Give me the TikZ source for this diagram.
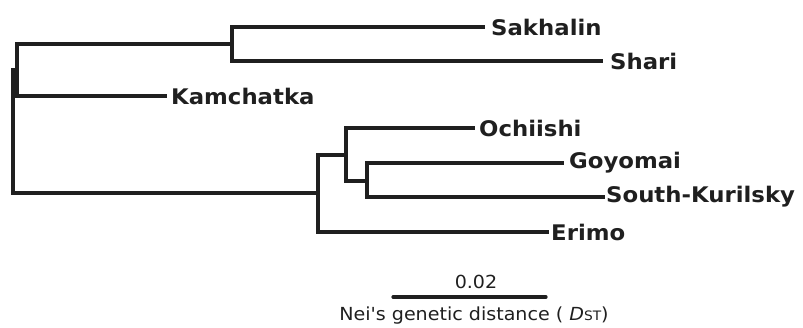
\documentclass[tikz,border=0pt]{standalone}
\usepackage{fontspec}
\setmainfont{DejaVu Sans}
\newfontfamily\widefont[FakeStretch=1.06]{DejaVu Sans}
\begin{document}
\begin{tikzpicture}[x=1pt,y=-1pt,
  br/.style={line width=3.2pt,draw=black!88,line cap=rect},
  leaf/.style={anchor=west,inner sep=0pt,font=\widefont\fontsize{21.5}{24}\selectfont\bfseries,text=black!88},
  captext/.style={inner sep=0pt,font=\widefont\fontsize{18}{21}\selectfont,text=black!88}]
\useasboundingbox (0,0) rectangle (803,327);
% internal nodes
\coordinate (r) at (13,70);
\coordinate (a) at (17,70);
\coordinate (b) at (232,44);
\coordinate (c) at (318,193);
\coordinate (d) at (346,155);
\coordinate (e) at (367,181);
% leaf label nodes
\node[leaf] (sak) at (491,27) {Sakhalin};
\node[leaf] (sha) at (610,61) {Shari};
\node[leaf] (kam) at (171,96) {Kamchatka};
\node[leaf] (och) at (479,128) {Ochiishi};
\node[leaf] (goy) at (569,163) {Goyomai};
\node[leaf] (sku) at (606,197) {South-Kurilsky};
\node[leaf] (eri) at (551,232) {Erimo};
% branches
\draw[br] (r |- a) |- (c);
\draw[br] (a |- b) |- ([xshift=-6pt]kam.west);
\draw[br] (a |- b) -- (b);
\draw[br] (b |- sak) |- (b |- sha);
\draw[br] (b |- sak) -- ([xshift=-8pt]sak.west);
\draw[br] (b |- sha) -- ([xshift=-9pt]sha.west);
\draw[br] (c |- d) |- ([xshift=-4pt]eri.west);
\draw[br] (c |- d) -- (d);
\draw[br] (d |- och) |- (e);
\draw[br] (d |- och) -- ([xshift=-6pt]och.west);
\draw[br] (e |- goy) |- ([xshift=-3pt]sku.west);
\draw[br] (e |- goy) -- ([xshift=-7pt]goy.west);
% scale bar
\coordinate (s1) at (393,297);
\coordinate (s2) at (546,297);
\draw[br,line cap=round] (s1) -- (s2);
\node[captext] (val) at (476,282) {0.02};
\node[captext] (lab) at (474,316) {Nei's genetic distance ( \textit{D}{\fontsize{13}{14}\selectfont ST})};
\end{tikzpicture}
\end{document}
